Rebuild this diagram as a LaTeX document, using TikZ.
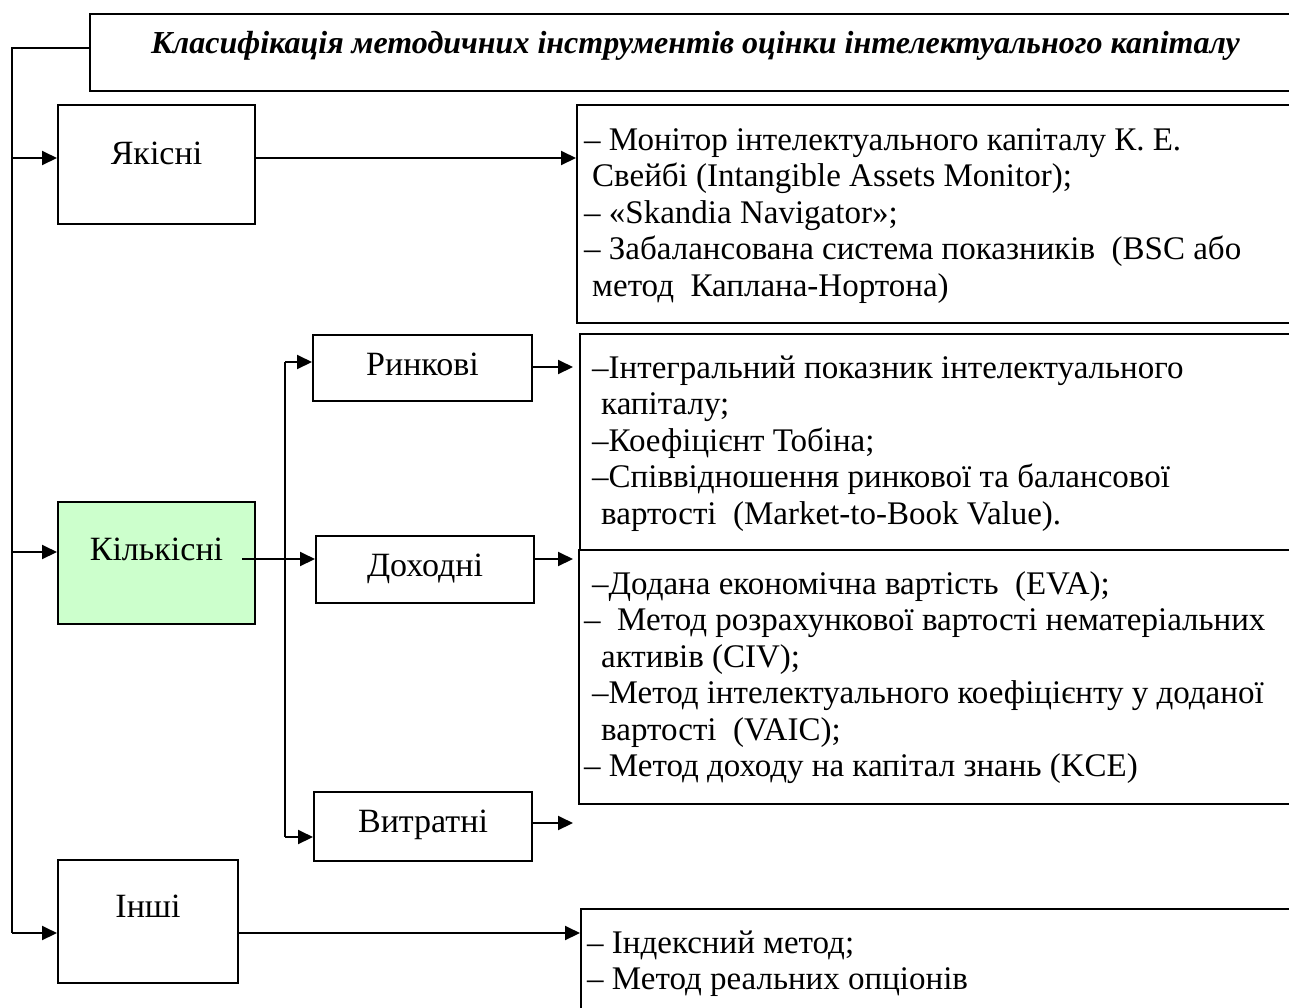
\documentclass[tikz,border=0pt]{standalone}
\usepackage{fontspec}
\setmainfont{Liberation Serif}
\usetikzlibrary{arrows.meta}
\definecolor{lightgreen}{HTML}{CCFFCC}
\begin{document}
\begin{tikzpicture}[x=1pt,y=-1pt,
  box/.style={draw, line width=2pt, inner sep=0pt, anchor=north west,
    font=\fontsize{34}{40}\selectfont},
  conn/.style={line width=2pt},
  arr/.style={line width=2pt, -{Triangle[length=15pt,width=14pt]}},
  lt/.style={anchor=base west, inner sep=0pt, font=\fontsize{33}{38}\selectfont},
]
\clip (0,0) rectangle (1289,1007);
\fill[white] (0,0) rectangle (1289,1007);

% title
\node[box, minimum width=1211pt, minimum height=77pt, text height=39pt, text depth=38pt,
  font=\fontsize{32}{38}\selectfont\bfseries\itshape] (tit) at (89,13)
  {Класифікація методичних інструментів оцінки інтелектуального капіталу};

% level 1 boxes
\node[box, minimum width=197pt, minimum height=119pt, text height=59pt, text depth=60pt] (yak) at (57,104) {Якісні};
\node[box, fill=lightgreen, minimum width=197pt, minimum height=122pt, text height=58pt, text depth=64pt] (kil) at (57,501) {Кількісні};
\node[box, minimum width=180pt, minimum height=123pt, text height=57pt, text depth=66pt] (inshi) at (57,859) {Інші};

% level 2 boxes
\node[box, minimum width=219pt, minimum height=66pt, text height=40pt, text depth=26pt] (rin) at (312,334) {Ринкові};
\node[box, minimum width=218pt, minimum height=67pt, text height=40pt, text depth=27pt] (doh) at (315,535) {Доходні};
\node[box, minimum width=218pt, minimum height=69pt, text height=40pt, text depth=29pt] (vyt) at (313,791) {Витратні};

% list boxes
\node[box, minimum width=724pt, minimum height=218pt] (l1) at (576,104) {};
\node[box, minimum width=721pt, minimum height=216pt] (l2) at (579,333) {};
\node[box, minimum width=722pt, minimum height=254pt] (l3) at (578,549) {};
\node[box, minimum width=720pt, minimum height=120pt] (l4) at (580,908) {};

% list texts
\node[lt] (l1a) at (584,150) {– Монітор інтелектуального капіталу К. Е.};
\node[lt] (l1b) at (592,186.5) {Свейбі (Intangible Assets Monitor);};
\node[lt] (l1c) at (584,223) {– «Skandia Navigator»;};
\node[lt] (l1d) at (584,259.5) {– Забалансована система показників~ (BSC або};
\node[lt] (l1e) at (592,296) {метод~ Каплана-Нортона)};

\node[lt] (l2a) at (592,378) {–Інтегральний показник інтелектуального};
\node[lt] (l2b) at (601,414.5) {капіталу;};
\node[lt] (l2c) at (592,451) {–Коефіцієнт Тобіна;};
\node[lt] (l2d) at (592,487.5) {–Співвідношення ринкової та балансової};
\node[lt] (l2e) at (601,524) {вартості~ (Market-to-Book Value).};

\node[lt] (l3a) at (592,594) {–Додана економічна вартість~ (EVA);};
\node[lt] (l3b) at (584,630.5) {–~ Метод розрахункової вартості нематеріальних};
\node[lt] (l3c) at (601,667) {активів (CIV);};
\node[lt] (l3d) at (592,703.5) {–Метод інтелектуального коефіцієнту у доданої};
\node[lt] (l3e) at (601,740) {вартості~ (VAIC);};
\node[lt] (l3f) at (584,776.5) {– Метод доходу на капітал знань (KCE)};

\node[lt] (l4a) at (587,953) {– Індексний метод;};
\node[lt] (l4b) at (587,989.5) {– Метод реальних опціонів};

% junction coordinates
\coordinate (t0) at (12,48);
\coordinate (t1) at (12,158);
\coordinate (t2) at (12,552);
\coordinate (t3) at (12,933);
\coordinate (k0) at (242,559);
\coordinate (b1) at (285,362);
\coordinate (b2) at (285,559);
\coordinate (b3) at (285,837);
\coordinate (o1) at (573,367);
\coordinate (o2) at (573,559);
\coordinate (o3) at (573,823);

% trunk
\draw[conn] (t0 -| tit.west) -- (t0) -- (t3);
\draw[arr] (t1) -- (t1 -| yak.west);
\draw[arr] (t2) -- (t2 -| kil.west);
\draw[arr] (t3) -- (t3 -| inshi.west);

% level 1 to lists
\draw[arr] (t1 -| yak.east) -- (t1 -| l1.west);
\draw[arr] (t3 -| inshi.east) -- (t3 -| l4.west);

% quantitative branch
\draw[conn] (k0) -- (b2);
\draw[conn] (b1) -- (b3);
\draw[arr] (b1) -- (b1 -| rin.west);
\draw[arr] (b2) -- (b2 -| doh.west);
\draw[arr] (b3) -- (b3 -| vyt.west);

% outputs of level 2
\draw[arr] (o1 -| rin.east) -- (o1);
\draw[arr] (o2 -| doh.east) -- (o2);
\draw[arr] (o3 -| vyt.east) -- (o3);
\end{tikzpicture}
\end{document}
